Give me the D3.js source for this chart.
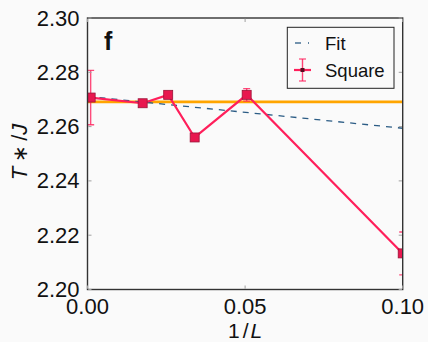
<!DOCTYPE html>
<html>
<head>
<meta charset="utf-8">
<script src="https://cdn.jsdelivr.net/npm/d3@7"></script>
<style>
  html, body { margin: 0; padding: 0; background: #fafafa; }
  svg { display: block; font-family: "Liberation Sans", Arial, sans-serif; }
</style>
</head>
<body>
<svg id="chart" width="428" height="342"></svg>
<script>
// Critical temperature estimates versus inverse system size
const invL    = [0.001, 0.0175, 0.0256, 0.034, 0.0505, 0.1];
const tStar   = [2.2707, 2.2686, 2.2717, 2.2560, 2.2717, 2.2133];
const tErr    = [0.0100, 0.0004, 0.0004, 0.0004, 0.0023, 0.0079];
const fitLine = [[0, 2.2711], [0.1, 2.2594]];
const tInf    = 2.2691;
const xTicks  = [0, 0.05, 0.1];
const yTicks  = [2.20, 2.22, 2.24, 2.26, 2.28, 2.30];

const svg = d3.select("#chart");
const m = { left: 87.5, right: 402.7, top: 18, bottom: 289.5 };
const x = d3.scaleLinear().domain([0, 0.1]).range([m.left, m.right]);
const y = d3.scaleLinear().domain([2.20, 2.30]).range([m.bottom, m.top]);

const pink = "#ff1f5b";
const markFill = "#e8174f";
const markEdge = "#9c1238";

svg.append("rect").attr("width", 428).attr("height", 342).attr("fill", "#fafafa");

svg.append("defs").append("clipPath").attr("id", "plotclip")
  .append("rect").attr("x", m.left).attr("y", m.top)
  .attr("width", m.right - m.left).attr("height", m.bottom - m.top);

const plot = svg.append("g").attr("clip-path", "url(#plotclip)");

// horizontal reference level
plot.append("line")
  .attr("x1", m.left).attr("x2", m.right)
  .attr("y1", y(tInf)).attr("y2", y(tInf))
  .attr("stroke", "#ffa500").attr("stroke-width", 2.6);

// linear fit
plot.append("path")
  .datum(fitLine)
  .attr("d", d3.line().x(d => x(d[0])).y(d => y(d[1])))
  .attr("fill", "none").attr("stroke", "#2b5c85")
  .attr("stroke-width", 1.3).attr("stroke-dasharray", "6,6");

// data line
const pts = invL.map((v, i) => ({ x: v, y: tStar[i], e: tErr[i] }));
plot.append("path")
  .datum(pts)
  .attr("d", d3.line().x(d => x(d.x)).y(d => y(d.y)))
  .attr("fill", "none").attr("stroke", pink).attr("stroke-width", 2.2);

// error bars
const eb = plot.append("g").attr("stroke", pink).attr("stroke-opacity", 0.8).attr("stroke-width", 1.4);
pts.forEach(d => {
  const cx = x(d.x);
  eb.append("line").attr("x1", cx).attr("x2", cx).attr("y1", y(d.y - d.e)).attr("y2", y(d.y + d.e));
  [d.y - d.e, d.y + d.e].forEach(v => {
    eb.append("line").attr("x1", cx - 3.5).attr("x2", cx + 3.5).attr("y1", y(v)).attr("y2", y(v));
  });
});

// square markers
plot.selectAll("rect.pt").data(pts).enter().append("rect")
  .attr("class", "pt")
  .attr("x", d => x(d.x) - 4.5).attr("y", d => y(d.y) - 4.5)
  .attr("width", 9).attr("height", 9)
  .attr("fill", markFill).attr("stroke", markEdge).attr("stroke-width", 0.8);

// axes frame
const frame = svg.append("g");
frame.append("rect")
  .attr("x", m.left).attr("y", m.top)
  .attr("width", m.right - m.left).attr("height", m.bottom - m.top)
  .attr("fill", "none").attr("stroke", "#333").attr("stroke-width", 1.4);

// inward ticks on all four sides
const tickLen = 4;
const tickColor = "#a0a0a0";
xTicks.forEach(t => {
  frame.append("line").attr("x1", x(t)).attr("x2", x(t))
    .attr("y1", m.bottom - 0.7).attr("y2", m.bottom - tickLen).attr("stroke", tickColor);
  frame.append("line").attr("x1", x(t)).attr("x2", x(t))
    .attr("y1", m.top + 0.7).attr("y2", m.top + tickLen).attr("stroke", tickColor);
});
yTicks.forEach(t => {
  frame.append("line").attr("x1", m.left + 0.7).attr("x2", m.left + tickLen)
    .attr("y1", y(t)).attr("y2", y(t)).attr("stroke", tickColor);
  frame.append("line").attr("x1", m.right - 0.7).attr("x2", m.right - tickLen)
    .attr("y1", y(t)).attr("y2", y(t)).attr("stroke", tickColor);
});

// tick labels
const fmt = d3.format(".2f");
svg.append("g").selectAll("text").data(yTicks).enter().append("text")
  .attr("x", m.left - 8).attr("y", d => y(d) + 7.5)
  .attr("text-anchor", "end").attr("font-size", 22).attr("fill", "#111")
  .text(d => fmt(d));
svg.append("g").selectAll("text").data(xTicks).enter().append("text")
  .attr("x", d => x(d)).attr("y", m.bottom + 24)
  .attr("text-anchor", "middle").attr("font-size", 22).attr("fill", "#111")
  .text(d => fmt(d));

// axis titles
const xl = svg.append("text").attr("x", x(0.05)).attr("y", 338)
  .attr("text-anchor", "middle").attr("font-size", 21).attr("fill", "#111");
xl.append("tspan").text("1");
xl.append("tspan").attr("dx", 3).text("/");
xl.append("tspan").attr("dx", 2).attr("font-style", "italic").text("L");

const yl = svg.append("text")
  .attr("transform", "translate(27,152) rotate(-90)")
  .attr("text-anchor", "middle").attr("font-size", 22).attr("fill", "#111");
yl.append("tspan").attr("font-style", "italic").text("T");
yl.append("tspan").attr("dx", 5).attr("font-size", 20).text("∗");
yl.append("tspan").attr("dx", 4).text("/");
yl.append("tspan").attr("font-style", "italic").text("J");

// panel letter
svg.append("text").attr("x", 104).attr("y", 50)
  .attr("font-size", 25).attr("font-weight", "bold").attr("fill", "#111").text("f");

// legend
const lg = svg.append("g");
lg.append("rect").attr("x", 287.3).attr("y", 27.3).attr("width", 106.7).attr("height", 61)
  .attr("fill", "#fafafa").attr("stroke", "#222").attr("stroke-width", 1);
lg.append("line").attr("x1", 295).attr("x2", 301).attr("y1", 43).attr("y2", 43)
  .attr("stroke", "#2b5c85").attr("stroke-width", 1.3);
lg.append("line").attr("x1", 308).attr("x2", 309).attr("y1", 43).attr("y2", 43)
  .attr("stroke", "#2b5c85").attr("stroke-width", 1.3);
lg.append("text").attr("x", 325).attr("y", 50).attr("font-size", 18.5).attr("fill", "#111").text("Fit");
const ly = 70;
lg.append("line").attr("x1", 294).attr("x2", 311).attr("y1", ly).attr("y2", ly)
  .attr("stroke", pink).attr("stroke-width", 2.2);
lg.append("line").attr("x1", 302.5).attr("x2", 302.5).attr("y1", ly - 11).attr("y2", ly + 11)
  .attr("stroke", pink).attr("stroke-width", 1.4).attr("stroke-opacity", 0.85);
[ly - 11, ly + 11].forEach(v => lg.append("line").attr("x1", 299).attr("x2", 306)
  .attr("y1", v).attr("y2", v).attr("stroke", pink).attr("stroke-width", 1.2).attr("stroke-opacity", 0.85));
lg.append("rect").attr("x", 300.5).attr("y", ly - 2).attr("width", 4).attr("height", 4)
  .attr("fill", "#5a0a20");
lg.append("text").attr("x", 325).attr("y", ly + 7).attr("font-size", 18.5).attr("fill", "#111").text("Square");
</script>
</body>
</html>
